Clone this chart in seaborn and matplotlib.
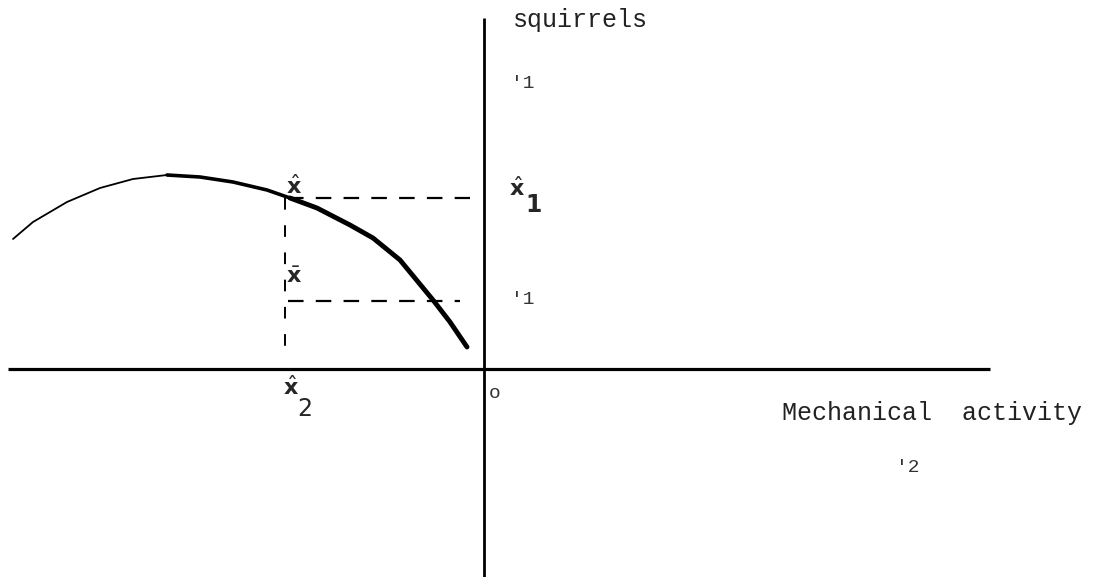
import matplotlib
matplotlib.use("Agg")
import matplotlib.pyplot as plt
import seaborn as sns
import pandas as pd

sns.set_theme(style="white")
plt.rcParams['font.family'] = ['DejaVu Sans']
plt.rcParams['mathtext.fontset'] = 'dejavusans'

# curve (origin at the axis crossing)
curve_x = [-471, -451, -417, -384, -351, -317, -284, -251, -217, -194,
           -167, -134, -111, -84, -51, -34, -17]
curve_y = [130, 147, 167, 181, 190, 194, 192, 187, 179, 171,
           161, 144, 131, 109, 69, 47, 22]
# stroke weight grows along the curve: thin / medium / heavy parts
part_breaks = [0, 5, 9, 16]
part_widths = [1.3, 2.6, 3.5]

x_hat2 = -199   # position of x^_2 on horizontal axis
y_hat1 = 171    # level of x^_1
y_bar = 68      # level of x-bar
y_dash_end_hi = -14
y_dash_end_lo = -24

y_label = "squirrels"
x_label = "Mechanical  activity"

fig = plt.figure(figsize=(10.94, 5.77), dpi=100)
ax = fig.add_axes([0, 0, 1, 1])
ax.set_xlim(-484, 610)
ax.set_ylim(-208, 369)
ax.axis("off")

df = pd.DataFrame({"x": curve_x, "y": curve_y})
for i, w in enumerate(part_widths):
    seg = df.iloc[part_breaks[i]:part_breaks[i + 1] + 1]
    sns.lineplot(data=seg, x="x", y="y", ax=ax, color="black", lw=w,
                 sort=False, estimator=None)
for l in ax.lines:
    l.set_solid_capstyle("round")
    l.set_solid_joinstyle("round")

# axes lines
ax.plot([-476, 506], [0, 0], color="black", lw=2.3, solid_capstyle="butt")
ax.plot([0, 0], [-208, 351], color="black", lw=2.0, solid_capstyle="butt")

# dashed guides
dash = (0, (7, 5.5))
ax.plot([x_hat2 + 3, y_dash_end_hi], [y_hat1, y_hat1], color="black", lw=1.6, ls=dash)
ax.plot([x_hat2 + 3, y_dash_end_lo], [y_bar, y_bar], color="black", lw=1.6, ls=dash)
ax.plot([x_hat2, x_hat2], [y_hat1, 21], color="black", lw=1.4, ls=(0, (6, 8)))

mono = "Liberation Mono"
ax.text(29, 349, y_label, family=mono, fontsize=18, ha="left", va="center", color="#222")
ax.text(27, 286, "'1", family=mono, fontsize=14, ha="left", va="center", color="#333")
ax.text(27, 70, "'1", family=mono, fontsize=14, ha="left", va="center", color="#333")
ax.text(5, -25, "o", family=mono, fontsize=14, ha="left", va="center", color="#333")
ax.text(298, -44, x_label, family=mono, fontsize=18, ha="left", va="center", color="#222")
ax.text(412, -98, "'2", family=mono, fontsize=14, ha="left", va="center", color="#333")

hat_x = r"$\hat{\mathbf{x}}$"
ax.text(x_hat2 + 9, 183, hat_x, fontsize=16, ha="center", va="center")
ax.text(33, 181, hat_x, fontsize=16, ha="center", va="center")
ax.text(50, 164, "1", fontsize=17, fontweight="bold", ha="center", va="center")
ax.text(x_hat2 + 9, 92, r"$\bar{\mathbf{x}}$", fontsize=16, ha="center", va="center")
ax.text(x_hat2 + 6, -18, hat_x, fontsize=16, ha="center", va="center")
ax.text(x_hat2 + 20, -40, "2", fontsize=17, ha="center", va="center")

fig.savefig("out.png", dpi=100)
